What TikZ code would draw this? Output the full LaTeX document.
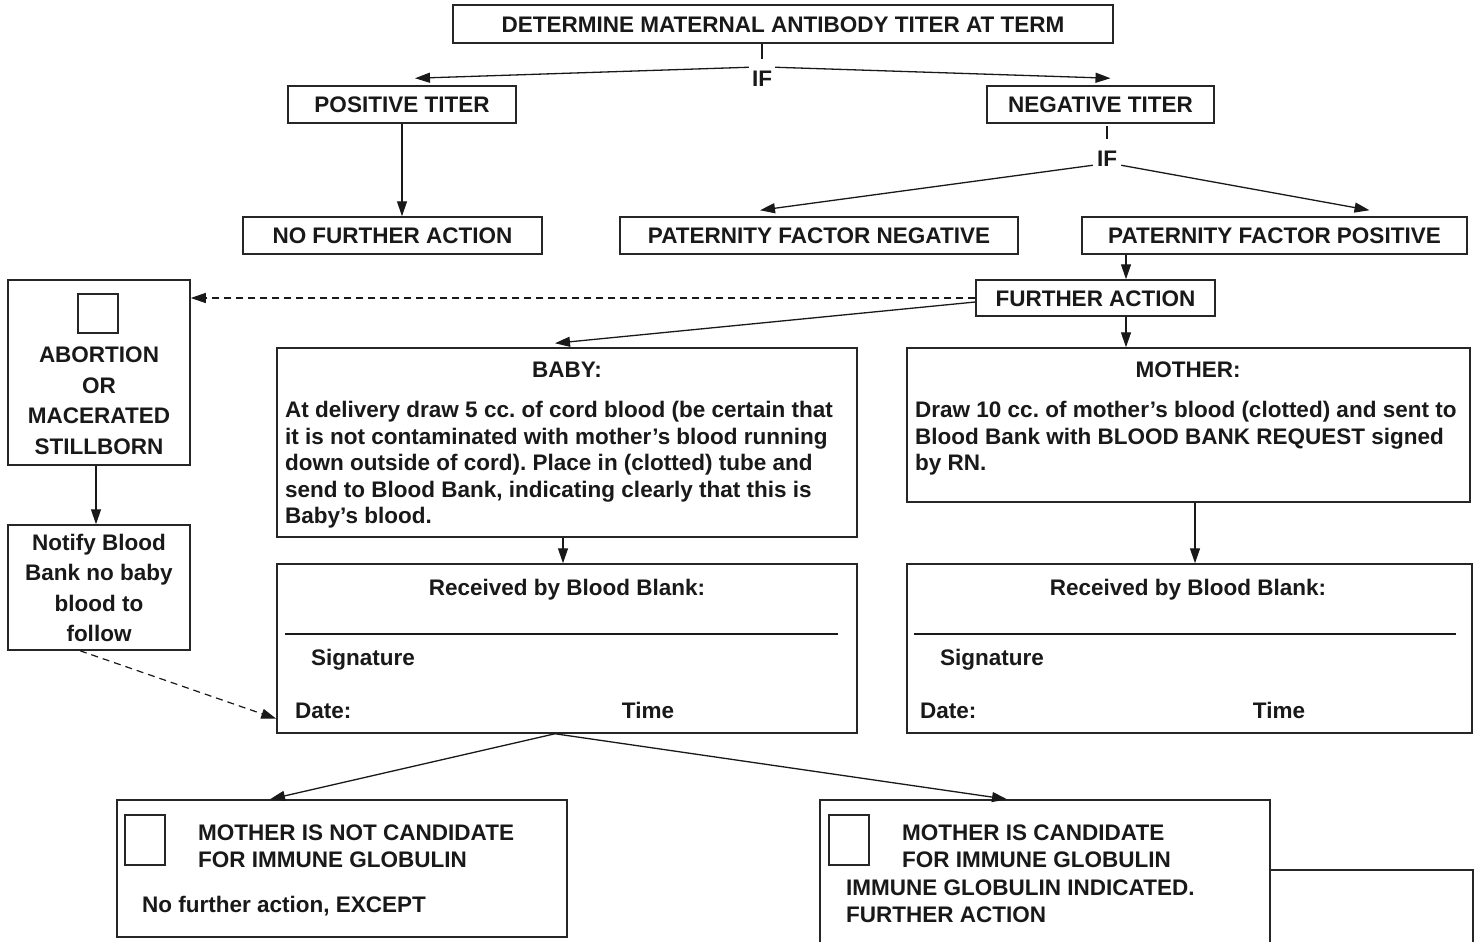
\documentclass[tikz,border=0pt]{standalone}
\usepackage{fontspec}
\setmainfont{Liberation Sans}
\usetikzlibrary{arrows.meta,calc}
\frenchspacing
\begin{document}
\frenchspacing
\begin{tikzpicture}[x=1pt,y=-1pt,
  every node/.style={font=\bfseries\fontsize{22.5}{26.5}\selectfont, inner sep=0pt, text=black!90, text height=20.6pt, text depth=4.5pt},
  multi/.style={text height=, text depth=},
  box/.style={draw=black!85, line width=1.5pt},
  chk/.style={draw=black!85, line width=1.6pt, minimum width=40pt, minimum height=40pt},
  arr/.style={draw=black!90, line width=1.3pt, -{Triangle[length=15pt,width=10pt]}},
  ln/.style={draw=black!90, line width=1.3pt},
  dsh/.style={draw=black!90, line width=1.2pt, dash pattern=on 7pt off 5pt, -{Triangle[length=15pt,width=10pt]}},
  rule/.style={draw=black!90, line width=1.8pt},
]
\clip (0,0) rectangle (1478,942);
\useasboundingbox (0,0) rectangle (1478,942);
\fill[white] (0,0) rectangle (1478,942);

% boxes
\node[box, minimum width=660pt, minimum height=38pt] (top) at (783,24) {DETERMINE MATERNAL ANTIBODY TITER AT TERM};
\node (if1) at (762,78) {IF};
\node[box, minimum width=228pt, minimum height=37pt] (pos) at (402,104.5) {POSITIVE TITER};
\node[box, minimum width=227pt, minimum height=37pt] (neg) at (1100.5,104.5) {NEGATIVE TITER};
\node (if2) at (1107,158) {IF};
\node[box, minimum width=299pt, minimum height=37pt] (nfa) at (392.5,235.5) {NO FURTHER ACTION};
\node[box, minimum width=398pt, minimum height=37pt] (pfn) at (819,235.5) {PATERNITY FACTOR NEGATIVE};
\node[box, minimum width=385pt, minimum height=37pt] (pfp) at (1274.5,235.5) {PATERNITY FACTOR POSITIVE};
\node[box, minimum width=239pt, minimum height=36pt] (fa) at (1095.5,298) {FURTHER ACTION};

% abortion
\node[box, minimum width=182pt, minimum height=185pt] (abort) at (99,372.5) {};
\node[chk, minimum height=39pt] (abortchk) at (98,313.5) {};
\node[multi, align=center, font=\bfseries\fontsize{22.5}{30.5}\selectfont] (aborttxt) at (99,401) {ABORTION\\OR\\MACERATED\\STILLBORN};
\node[box, minimum width=182pt, minimum height=125pt] (notify) at (99,587.5) {};
\node[multi, align=center, font=\bfseries\fontsize{22.5}{30.5}\selectfont] (notifytxt) at (99,588) {Notify Blood\\Bank no baby\\blood to\\follow};

% baby
\node[box, minimum width=580pt, minimum height=189pt] (baby) at (567,442.5) {};
\node (babyhd) at (567,369) {BABY:};
\node[multi, anchor=north west, align=left] (babytxt) at (285,401) {At delivery draw 5 cc. of cord blood (be certain that\\it is not contaminated with mother’s blood running\\down outside of cord). Place in (clotted) tube and\\send to Blood Bank, indicating clearly that this is\\Baby’s blood.};

% mother
\node[box, minimum width=563pt, minimum height=154pt] (mother) at (1188.5,425) {};
\node (motherhd) at (1188,369) {MOTHER:};
\node[multi, anchor=north west, align=left] (mothertxt) at (915,401) {Draw 10 cc. of mother’s blood (clotted) and sent to\\Blood Bank with BLOOD BANK REQUEST signed\\by RN.};

% received boxes
\node[box, minimum width=580pt, minimum height=169pt] (recL) at (567,648.5) {};
\node (recLhd) at (567,587) {Received by Blood Blank:};
\draw[rule] (285,634) -- (838,634);
\node[anchor=west] (recLsig) at (311,657) {Signature};
\node[anchor=west] (recLdate) at (295,710) {Date:};
\node (recLtime) at (648,710) {Time};

\node[box, minimum width=565pt, minimum height=169pt] (recR) at (1189.5,648.5) {};
\node (recRhd) at (1188,587) {Received by Blood Blank:};
\draw[rule] (914,634) -- (1456,634);
\node[anchor=west] (recRsig) at (940,657) {Signature};
\node[anchor=west] (recRdate) at (920,710) {Date:};
\node (recRtime) at (1279,710) {Time};

% bottom boxes
\node[box, minimum width=450pt, minimum height=137pt] (notc) at (342,868.5) {};
\node[chk, minimum height=50pt] (notcchk) at (145,840) {};
\node[anchor=west] (notct1) at (198,832) {MOTHER IS NOT CANDIDATE};
\node[anchor=west] (notct2) at (198,859) {FOR IMMUNE GLOBULIN};
\node[anchor=west] (notct3) at (142,904) {No further action, EXCEPT};

\node[box, minimum width=450pt, minimum height=190pt] (cand) at (1045,895) {};
\node[chk, minimum height=50pt] (candchk) at (849,840) {};
\node[anchor=west] (candt1) at (902,832) {MOTHER IS CANDIDATE};
\node[anchor=west] (candt2) at (902,859) {FOR IMMUNE GLOBULIN};
\node[anchor=west] (candt3) at (846,887) {IMMUNE GLOBULIN INDICATED.};
\node[anchor=west] (candt4) at (846,914) {FURTHER ACTION};

\node[box, minimum width=203pt, minimum height=130pt] (extra) at (1371.5,935) {};

% connectors
\coordinate (xa) at (1126,0);
\coordinate (xb) at (1195,0);
\draw[ln] (if1.north |- top.south) -- ([yshift=6pt]if1.north);
\draw[arr] ([xshift=-3pt,yshift=-2pt]if1.north west) -- ([xshift=13pt,yshift=7pt]pos.north);
\draw[arr] ([xshift=3pt,yshift=-2pt]if1.north east) -- ([xshift=10pt,yshift=7pt]neg.north);
\draw[arr] (pos.south) -- (pos.south |- nfa.north);
\draw[ln] ([yshift=-2pt]if2.north |- neg.south) -- ([yshift=6pt]if2.north);
\draw[arr] ([xshift=-4pt,yshift=5.5pt]if2.south west) -- ([xshift=-59pt,yshift=6pt]pfn.north);
\draw[arr] ([xshift=4pt,yshift=5.5pt]if2.south east) -- ([xshift=95pt,yshift=6pt]pfp.north);
\draw[arr] (pfp.south -| xa) -- (fa.north -| xa);
\draw[arr] (fa.south -| xa) -- (mother.north -| xa);
\draw[dsh] (fa.west) -- (fa.west -| abort.east);
\draw[arr] ([yshift=-4pt]fa.west) -- ([xshift=-12pt,yshift=4pt]baby.north);
\draw[arr] ([xshift=-3pt]abort.south) -- ([xshift=-3pt]notify.north);
\draw[dsh] ([xshift=-19pt]notify.south) -- ([yshift=15pt]recL.south west);
\draw[arr] ([xshift=-4pt]baby.south) -- ([xshift=-4pt]recL.north);
\draw[arr] (mother.south -| xb) -- (recR.north -| xb);
\draw[arr] ([xshift=-12pt]recL.south) -- ([xshift=-72pt]notc.north);
\draw[arr] ([xshift=-12pt]recL.south) -- ([xshift=-38pt]cand.north);
\end{tikzpicture}
\end{document}
